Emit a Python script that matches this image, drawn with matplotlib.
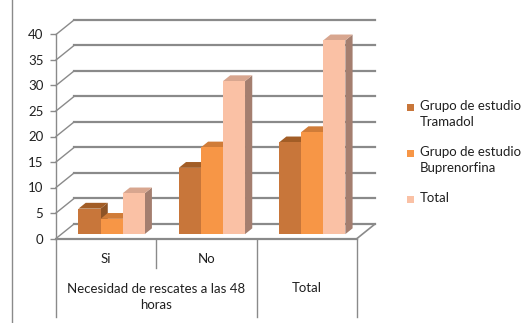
import matplotlib
matplotlib.use("Agg")
import matplotlib.pyplot as plt
from matplotlib.patches import Polygon, Rectangle
from matplotlib.lines import Line2D

plt.rcParams['font.family'] = ['Lato', 'DejaVu Sans']
plt.rcParams['font.size'] = 9.5

categories = ['Si', 'No', 'Total']
group_label = 'Necesidad de rescates a las 48\nhoras'
series = ['Grupo de estudio\nTramadol', 'Grupo de estudio\nBuprenorfina', 'Total']
tramadol = [5, 13, 18]
buprenorfina = [3, 17, 20]
total = [8, 30, 38]
values = [tramadol, buprenorfina, total]
yticks = [0, 5, 10, 15, 20, 25, 30, 35, 40]

front = ['#C8763A', '#F79646', '#FAC1A5']
top = ['#A25D26', '#D07C38', '#D8A68F']
side = ['#8E5426', '#B86C30', '#A47E6F']
grid_c = '#8A8A8A'

W, H = 528, 323
fig = plt.figure(figsize=(W / 100, H / 100), dpi=100)
ax = fig.add_axes([56 / W, (H - 238.5) / H, 301 / W, 204 / H])
ax.set_xlim(0, 3)
ax.set_ylim(0, 40)

# oblique depth of the box (in data units) and bar placement
DX, DY = 0.18, 2.85
BW = 0.22
F0, FD = 0.3, 0.4

# back wall grid and side wall diagonals
for v in yticks:
    ax.plot([DX, 3 + DX], [v + DY, v + DY], color=grid_c, lw=1.6, clip_on=False, zorder=1)
    ax.plot([0, DX], [v, v + DY], color=grid_c, lw=1.0, clip_on=False, zorder=1)

# floor outline
ax.plot([3, 3 + DX], [0, DY], color=grid_c, lw=1.2, clip_on=False, zorder=1)

# bars
ox, oy = F0 * DX, F0 * DY
dx, dy = FD * DX, FD * DY
for i in range(len(categories)):
    for j, vals in enumerate(values):
        v = vals[i]
        x0 = i + 0.17 + j * BW + ox
        x1 = x0 + BW
        y0 = oy
        y1 = oy + v
        z = 3 + i * 3 + j
        ax.add_patch(Polygon([(x1, y0), (x1 + dx, y0 + dy), (x1 + dx, y1 + dy), (x1, y1)],
                             closed=True, fc=side[j], ec='none', clip_on=False, zorder=z))
        ax.add_patch(Polygon([(x0, y1), (x1, y1), (x1 + dx, y1 + dy), (x0 + dx, y1 + dy)],
                             closed=True, fc=top[j], ec='none', clip_on=False, zorder=z))
        ax.add_patch(Rectangle((x0, y0), BW, v, fc=front[j], ec='none', clip_on=False, zorder=z))

# category table under the floor
ax.plot([0, 3], [0, 0], color=grid_c, lw=1.6, clip_on=False, zorder=20)
ax.plot([0, 0], [0, -15.4], color=grid_c, lw=1.0, clip_on=False, zorder=20)
ax.plot([1, 1], [0, -5.8], color=grid_c, lw=1.0, clip_on=False, zorder=20)
ax.plot([2, 2], [0, -15.4], color=grid_c, lw=1.0, clip_on=False, zorder=20)
ax.plot([3, 3], [0, -15.4], color=grid_c, lw=1.0, clip_on=False, zorder=20)
for i, c in enumerate(categories[:2]):
    ax.text(i + 0.5, -4.1, c, ha='center', va='center', color='#202020')
ax.text(1.0, -11.4, group_label, ha='center', va='center', color='#202020', linespacing=1.4)
ax.text(2.5, -9.7, categories[2], ha='center', va='center', color='#202020')

# value axis
for s in ['top', 'right', 'bottom']:
    ax.spines[s].set_visible(False)
ax.spines['left'].set_color(grid_c)
ax.spines['left'].set_linewidth(1.0)
ax.set_xticks([])
ax.set_yticks(yticks)
ax.tick_params(axis='y', length=4, width=1.0, color=grid_c, pad=5, labelcolor='#202020', labelsize=9.5)
ax.patch.set_visible(False)

# legend
def px(x, y):
    return x / W, 1 - y / H

for k, (name, yc) in enumerate(zip(series, [107.5, 153.5, 199])):
    fx, fy = px(407, yc + 3.5)
    fig.add_artist(Rectangle((fx, fy), 7 / W, 7 / H, transform=fig.transFigure, fc=front[k], ec='none'))
    tx, ty = px(420, yc - 7.5)
    fig.text(tx, ty, name, ha='left', va='top', color='#202020', fontsize=9.5, linespacing=1.4)

# chart border
fig.add_artist(Line2D([12 / W, 12 / W], [0, 1], transform=fig.transFigure, color='#8A8A8A', lw=1.0))

fig.savefig('out.png', dpi=100)
